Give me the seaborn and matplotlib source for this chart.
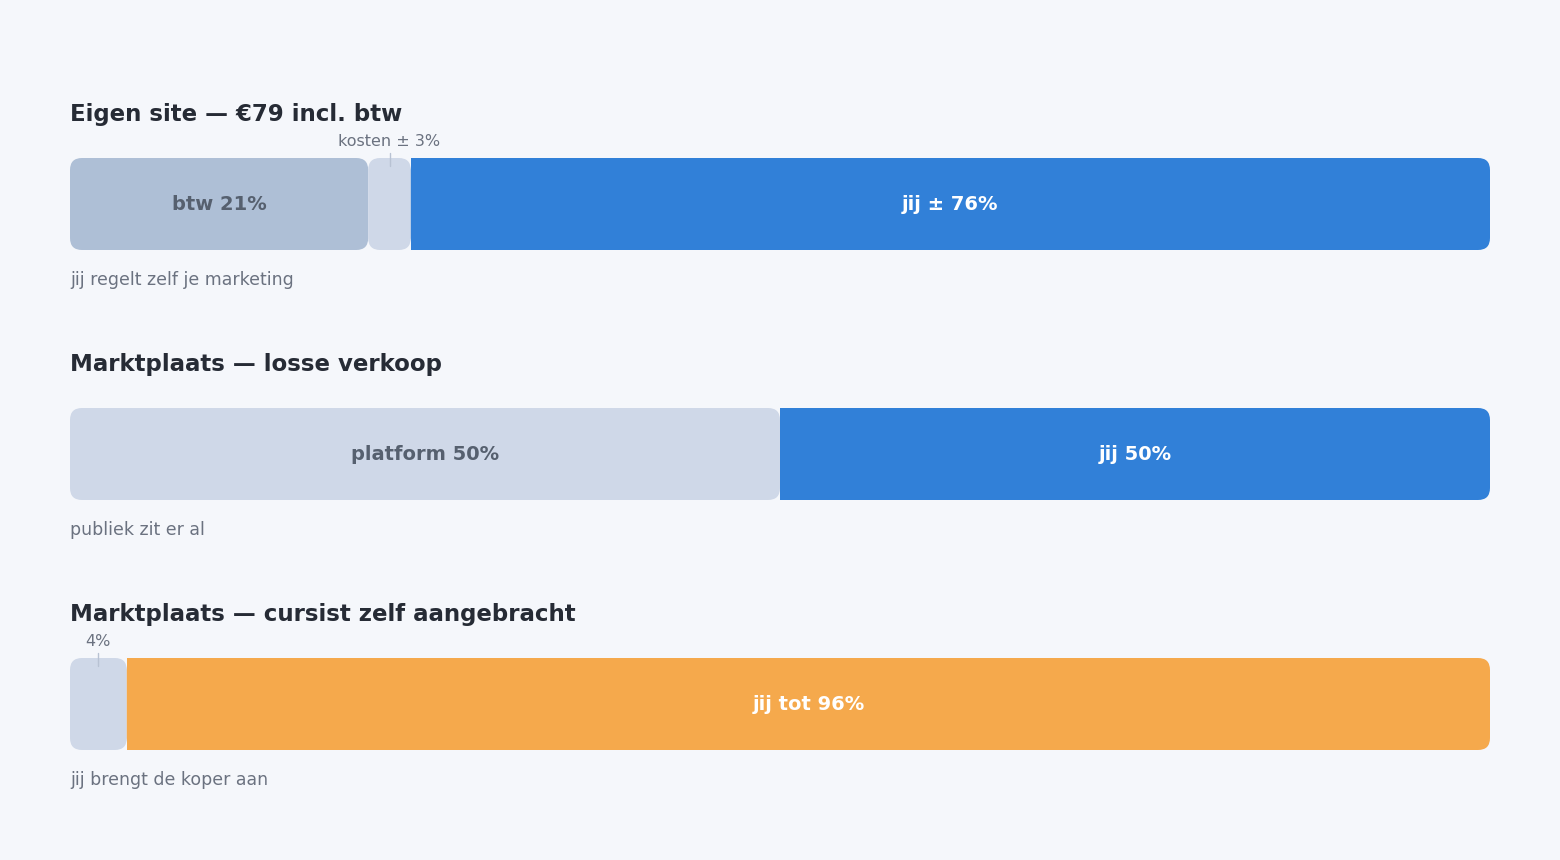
import matplotlib
matplotlib.use("Agg")
import matplotlib.pyplot as plt
import seaborn as sns
from matplotlib.patches import FancyBboxPatch, Rectangle

titles = ["Eigen site — €79 incl. btw", "Marktplaats — losse verkoop", "Marktplaats — cursist zelf aangebracht"]
subtitles = ["jij regelt zelf je marketing", "publiek zit er al", "jij brengt de koper aan"]
seg_values = [[21, 3, 76], [50, 50], [4, 96]]
seg_labels = [["btw 21%", "", "jij ± 76%"], ["platform 50%", "jij 50%"], ["", "jij tot 96%"]]
seg_callouts = [["", "kosten ± 3%", ""], ["", ""], ["4%", ""]]
seg_colors = [["#aebfd6", "#cfd8e8", "#3180d8"], ["#cfd8e8", "#3180d8"], ["#cfd8e8", "#f5a94c"]]
seg_textcol = [["#56606f", "#56606f", "white"], ["#56606f", "white"], ["#56606f", "white"]]

sns.set_theme(style="white")
plt.rcParams['font.family'] = ['DejaVu Sans']
BG = "#f5f7fb"
fig = plt.figure(figsize=(15.6, 8.6), dpi=100, facecolor=BG)
ax = fig.add_axes([70/1560, 0, 1420/1560, 1])
ax.set_facecolor(BG)
ax.set_xlim(0, 100)
ax.set_ylim(860, 0)
ax.axis("off")

px_per_x = 14.2
r = 12 / px_per_x
row_top = [158, 408, 658]
H = 92
for i in range(3):
    y0 = row_top[i]
    ax.text(0, y0 - 44, titles[i], fontsize=16.5, fontweight="bold", color="#262b35", va="center", ha="left")
    ax.text(0, y0 + 122, subtitles[i], fontsize=12.5, color="#6b7280", va="center", ha="left")
    left = 0
    n = len(seg_values[i])
    for j, v in enumerate(seg_values[i]):
        c = seg_colors[i][j]
        p = FancyBboxPatch((left, y0), v, H, boxstyle=f"round,pad=0,rounding_size={r}",
                           mutation_aspect=px_per_x, fc=c, ec="none")
        ax.add_patch(p)
        if j == n - 1:
            ax.add_patch(Rectangle((left, y0), min(v / 2, 3), H, fc=c, ec="none"))
        if seg_labels[i][j]:
            ax.text(left + v / 2, y0 + H / 2, seg_labels[i][j], fontsize=14, fontweight="bold",
                    color=seg_textcol[i][j], ha="center", va="center")
        if seg_callouts[i][j]:
            cx = left + v / 2
            ax.text(cx, y0 - 17, seg_callouts[i][j], fontsize=11.5, color="#6b7280", ha="center", va="center")
            ax.plot([cx, cx], [y0 - 5, y0 + 8], color="#b8c2d3", lw=1)
        left += v

fig.savefig("out.png", dpi=100, facecolor=BG)
